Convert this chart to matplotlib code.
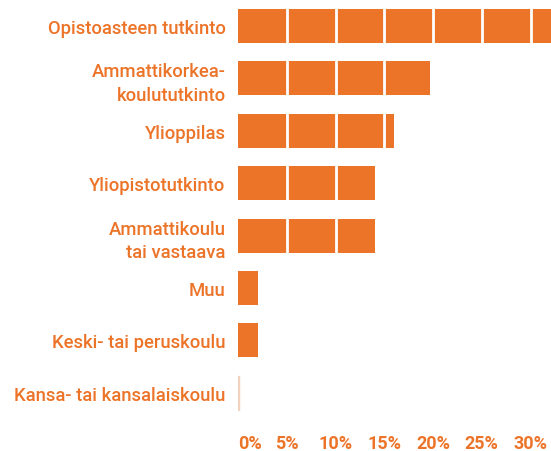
import matplotlib.pyplot as plt
import matplotlib as mpl

mpl.rcParams['font.family'] = ['Roboto', 'DejaVu Sans']

ORANGE = '#EC7429'

categories = [
    "Opistoasteen tutkinto",
    "Ammattikorkea-\nkoulututkinto",
    "Ylioppilas",
    "Yliopistotutkinto",
    "Ammattikoulu\ntai vastaava",
    "Muu",
    "Keski- tai peruskoulu",
    "Kansa- tai kansalaiskoulu",
]
values = [33.5, 19.7, 16.0, 14.0, 14.0, 2.0, 2.0, 0.1]
ticks = [0, 5, 10, 15, 20, 25, 30]
tick_labels = ["0%", "5%", "10%", "15%", "20%", "25%", "30%"]

fig = plt.figure(figsize=(5.51, 4.52), dpi=100)
ax = fig.add_axes([0.432, 0.071, 0.568, 0.927])

y_positions = list(range(len(categories)))
bars = ax.barh(y_positions, values, height=0.65, color=ORANGE, zorder=1)
bars[-1].set_color('#F3D3BE')  # near-zero bar shows as a faint line

# white separators over the bars
for t in ticks[1:]:
    ax.axvline(t, color='white', linewidth=2, zorder=2)

ax.set_xlim(0, 32.1)
ax.set_ylim(7.5, -0.5)

ax.set_yticks(y_positions)
ax.set_yticklabels(categories, color=ORANGE, fontsize=13.3, fontweight='medium',
                   multialignment='right', linespacing=1.4)
ax.set_xticks(ticks)
ax.set_xticklabels(tick_labels, color=ORANGE, fontsize=13, fontweight='bold')
ax.get_xticklabels()[0].set_horizontalalignment('left')
ax.tick_params(axis='both', length=0)
ax.tick_params(axis='y', pad=9)
ax.tick_params(axis='x', pad=11)

for spine in ax.spines.values():
    spine.set_visible(False)

plt.savefig("out.png", dpi=100)
